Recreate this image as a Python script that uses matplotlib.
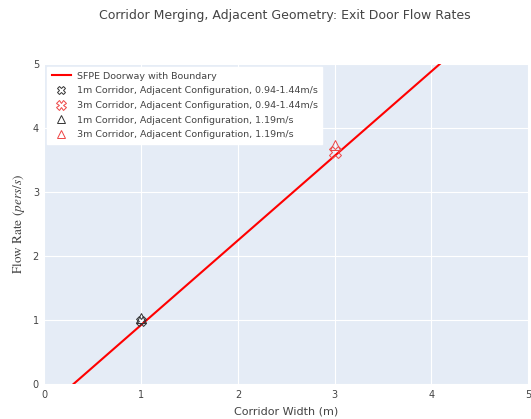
import matplotlib.pyplot as plt
import numpy as np

# SFPE doorway line (effective width = W - 0.3 m, Fs = 1.32 pers/s/m)
line_x = [0.3, 5.0]
line_y = [0.0, 6.204]

widths = [1, 3]
flow_var = [0.98, 3.62]   # 0.94-1.44 m/s
flow_fix = [1.03, 3.73]   # 1.19 m/s

gray = '#444444'
plt.rcParams['mathtext.fontset'] = 'stix'
fig = plt.figure(figsize=(5.31, 4.19), dpi=100)
ax = fig.add_axes([0.0838, 0.0835, 0.9105, 0.7637])
ax.set_facecolor('#E5ECF6')
for s in ax.spines.values():
    s.set_visible(False)
ax.set_xlim(0, 5)
ax.set_ylim(0, 5)
ax.set_xticks(range(6))
ax.set_yticks(range(6))
ax.grid(color='white', linewidth=0.8)
ax.set_axisbelow(True)
ax.tick_params(length=0, labelsize=7, colors=gray, pad=4)

ax.plot(line_x, line_y, color='red', lw=1.5, label='SFPE Doorway with Boundary')
ax.plot(widths[0], flow_var[0], ls='none', marker='X', ms=7, mfc='none', mec='#333333', mew=0.7,
        label='1m Corridor, Adjacent Configuration, 0.94-1.44m/s')
ax.plot(widths[1], flow_var[1], ls='none', marker='X', ms=9, mfc='none', mec='#EE4444', mew=0.7,
        label='3m Corridor, Adjacent Configuration, 0.94-1.44m/s')
ax.plot(widths[0], flow_fix[0], ls='none', marker='^', ms=7, mfc='none', mec='#333333', mew=0.7,
        label='1m Corridor, Adjacent Configuration, 1.19m/s')
ax.plot(widths[1], flow_fix[1], ls='none', marker='^', ms=7, mfc='none', mec='#EE4444', mew=0.7,
        label='3m Corridor, Adjacent Configuration, 1.19m/s')

leg = ax.legend(loc='upper left', fontsize=6.8, frameon=True, fancybox=False, markerscale=0.75,
                borderaxespad=0.3, handlelength=2.0, handletextpad=0.6, labelspacing=0.6,
                borderpad=0.5)
leg.get_frame().set_facecolor('white')
leg.get_frame().set_edgecolor('white')
leg.get_frame().set_alpha(1)
for t in leg.get_texts():
    t.set_color(gray)

ax.set_xlabel('Corridor Width (m)', fontsize=8, color=gray, labelpad=5)
ax.set_ylabel('Flow Rate $(pers/s)$', fontsize=9.5, color=gray, family='STIXGeneral', labelpad=4)
fig.text(0.537, 0.962, 'Corridor Merging, Adjacent Geometry: Exit Door Flow Rates',
         ha='center', va='center', fontsize=9, color=gray)

fig.savefig('out.png', dpi=100)
